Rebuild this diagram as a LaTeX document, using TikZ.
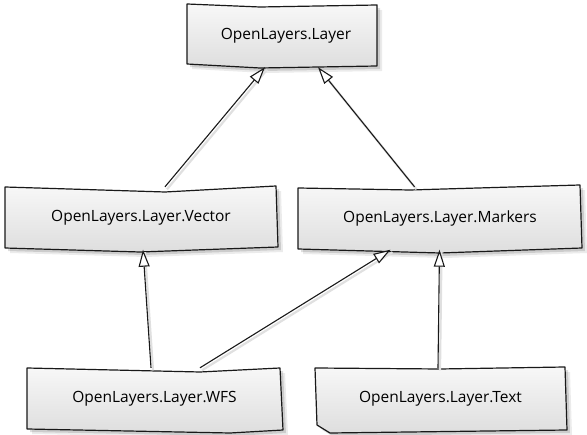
\documentclass[tikz,border=0pt]{standalone}
\usepackage{fontspec}
\setmainfont{Open Sans}
\usetikzlibrary{arrows.meta,calc}
\tikzset{
  boxnode/.style={draw=none, rectangle, inner sep=0pt, minimum height=62pt, font=\fontsize{15.5}{17}\selectfont},
  boxfill/.style={top color=white!97!black, bottom color=black!13},
  boxline/.style={draw=black!90, line width=1.2pt, line join=round},
  shadowc/.style={fill=black, opacity=0.13},
  conn/.style={draw=black!90, line width=1.1pt, -{Triangle[length=17pt,width=11pt,fill=white,line width=1.1pt]},
    preaction={draw=black!12, line width=2.2pt, -, transform canvas={shift={(2pt,-2.5pt)}}}}
}
\newcommand\skbox[1]{%
  \fill[shadowc, shift={(3,-3)}] #1 -- cycle;
  \fill[shadowc, opacity=0.08, shift={(5,-5)}] #1 -- cycle;
  \shade[boxfill] #1 -- cycle;
  \draw[boxline] #1 -- cycle;}
\begin{document}
\begin{tikzpicture}[x=1pt,y=1pt]
\useasboundingbox (0,0) rectangle (587,-435);
\fill[white] (0,0) rectangle (587,-435);
% sketchy box outlines
\skbox{(187,-4) -- (260,-7) -- (377,-5) -- (377,-66) -- (260,-68) -- (187,-64)}
\skbox{(5,-187) -- (165,-192) -- (276,-186) -- (278,-247) -- (140,-252) -- (5,-248)}
\skbox{(298,-188) -- (410,-190) -- (580,-185) -- (582,-248) -- (440,-253) -- (298,-249)}
\skbox{(27,-368) -- (200,-372) -- (280,-368) -- (283,-430) -- (230,-433) -- (27,-429)}
\skbox{(315,-368) -- (440,-369) -- (565,-367) -- (567,-430) -- (330,-433) -- (317,-425)}
% nodes
\node[boxnode, minimum width=190pt] (layer) at (282,-35.5) {\hspace*{8pt}OpenLayers.Layer};
\node[boxnode, minimum width=272pt] (vec) at (141,-218) {OpenLayers.Layer.Vector};
\node[boxnode, minimum width=283pt] (mark) at (440,-218) {OpenLayers.Layer.Markers};
\node[boxnode, minimum width=255pt] (wfs) at (154.5,-399) {OpenLayers.Layer.WFS};
\node[boxnode, minimum width=251pt] (txt) at (440.5,-399) {OpenLayers.Layer.Text};
% connectors
\draw[conn] ([xshift=24pt]vec.north) -- ([xshift=-17pt,yshift=-0.5pt]layer.south);
\draw[conn] ([xshift=-25.5pt]mark.north) -- ([xshift=36pt,yshift=-0.5pt]layer.south);
\draw[conn] ([xshift=-3.5pt]wfs.north) -- ([xshift=2pt,yshift=-0.5pt]vec.south);
\draw[conn] ([xshift=45.5pt]wfs.north) -- ([xshift=-49.5pt,yshift=-0.5pt]mark.south);
\draw[conn] ([xshift=-2.5pt]txt.north) -- ([xshift=-0.5pt,yshift=-0.5pt]mark.south);
\end{tikzpicture}
\end{document}
